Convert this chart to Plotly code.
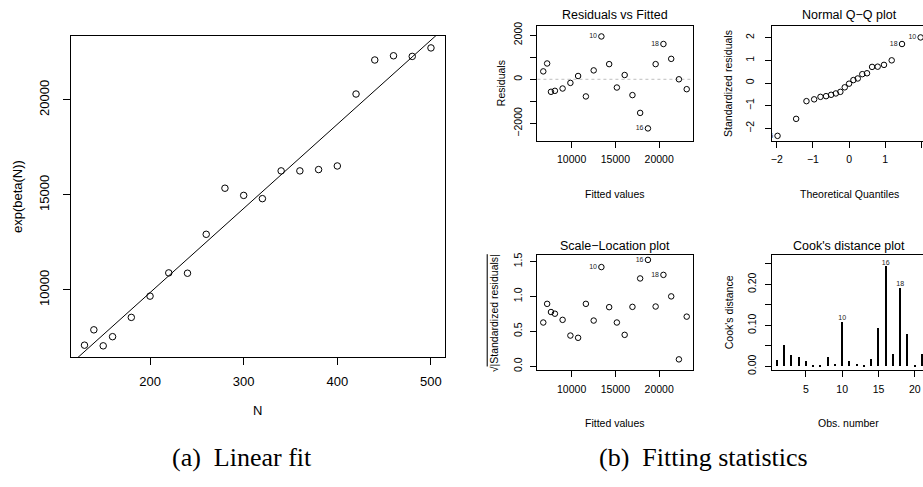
import plotly.graph_objects as go

W, H = 923, 487

# ---------------- data: panel (a) linear fit ----------------
N = [130, 140, 150, 160, 180, 200, 220, 240, 260, 280, 300,
     320, 340, 360, 380, 400, 420, 440, 460, 480, 500]
exp_beta = [7091, 7900, 7057, 7539, 8554, 9673, 10895, 10878, 12926, 15352, 14974,
            14802, 16264, 16264, 16333, 16523, 20309, 22099, 22322, 22288, 22735]
fit_intercept = 997.0
fit_slope = 44.3

# ---------------- data: panel (b) fitting statistics ----------------
obs_labels = ["", "", "", "", "", "", "", "", "", "10", "",
              "", "", "", "", "16", "", "18", "", "", ""]
fitted = [6760, 7200, 7640, 8090, 8970, 9860, 10740, 11630, 12520, 13400, 14290,
          15170, 16060, 16950, 17830, 18720, 19600, 20490, 21380, 22260, 23150]
residuals = [358, 716, -567, -522, -418, -164, 149, -776, 403, 1940, 687,
             -373, 194, -716, -1522, -2224, 687, 1597, 925, 0, -448]
sqrt_std_resid = [0.626, 0.893, 0.776, 0.752, 0.664, 0.439, 0.407, 0.893, 0.654, 1.42, 0.846,
                  0.626, 0.449, 0.850, 1.257, 1.523, 0.855, 1.308, 1.00, 0.098, 0.71]
qq_theoretical = [-1.981, -1.466, -1.180, -0.967, -0.792, -0.637, -0.497, -0.366, -0.241, -0.120, 0.0,
                  0.120, 0.241, 0.366, 0.497, 0.637, 0.792, 0.967, 1.180, 1.466, 1.981]
qq_sample = [-2.33, -1.58, -0.80, -0.72, -0.61, -0.58, -0.52, -0.46, -0.39, -0.19, -0.03,
             0.13, 0.20, 0.39, 0.43, 0.71, 0.72, 0.80, 1.00, 1.72, 2.01]
qq_labels = ["16", "", "", "", "", "", "", "", "", "", "",
             "", "", "", "", "", "", "", "", "18", "10"]
obs_number = list(range(1, 22))
cooks_d = [0.0143, 0.0526, 0.028, 0.0215, 0.012, 0.0024, 0.0016, 0.0215, 0.0064, 0.108, 0.0135,
           0.0056, 0.0016, 0.0175, 0.093, 0.243, 0.0295, 0.191, 0.079, 0.0016, 0.0295]

# tick labels
a_xticks = [200, 300, 400, 500]
a_xticktext = ["200", "300", "400", "500"]
a_yticks = [10000, 15000, 20000]
a_yticktext = ["10000", "15000", "20000"]
fit_xticks = [10000, 15000, 20000]
fit_xticktext = ["10000", "15000", "20000"]
res_yticks = [-2000, -1000, 0, 1000, 2000]
res_yticktext = ["\u22122000", "", "0", "", "2000"]
qq_ticks = [-2, -1, 0, 1, 2]
qq_ticktext = ["\u22122", "\u22121", "0", "1", "2"]
sl_yticks = [0.0, 0.5, 1.0, 1.5]
sl_yticktext = ["0.0", "0.5", "1.0", "1.5"]
cook_xticks = [5, 10, 15, 20]
cook_xticktext = ["5", "10", "15", "20"]
cook_yticks = [0.0, 0.05, 0.10, 0.15, 0.20, 0.25]
cook_yticktext = ["0.00", "", "0.10", "", "0.20", ""]

SANS = "Liberation Sans"
SERIF = "Liberation Serif"


def px_x(p):
    return p / W


def px_y(p):
    return 1 - p / H


def dom_x(a, b):
    return [max(0.0, px_x(a)), min(1.0, px_x(b))]


def dom_y(top, bottom):
    return [px_y(bottom), px_y(top)]


def axis(domain, rng, tickvals, ticktext, ticklen=7, fs=10.5, anchor=None,
         mirror=True, angle=0, standoff=0):
    return dict(domain=domain, range=rng, tickmode="array", tickvals=tickvals, ticktext=ticktext,
                ticks="outside", ticklen=ticklen, tickwidth=1, tickcolor="black",
                showline=True, linecolor="black", linewidth=1, mirror=mirror,
                showgrid=False, zeroline=False, anchor=anchor,
                tickfont=dict(family=SANS, size=fs, color="black"),
                tickangle=angle, ticklabelstandoff=standoff, fixedrange=True)


fig = go.Figure()

# ---- panel (a)
a_xrange = [115.2, 514.8]
fig.add_trace(go.Scatter(x=N, y=exp_beta, mode="markers", xaxis="x", yaxis="y",
                         marker=dict(symbol="circle-open", size=6.5, color="black",
                                     line=dict(width=1, color="black")),
                         showlegend=False))
fig.add_trace(go.Scatter(x=a_xrange, y=[fit_intercept + fit_slope * v for v in a_xrange],
                         mode="lines", xaxis="x", yaxis="y",
                         line=dict(color="black", width=1), showlegend=False))

# ---- residuals vs fitted
circ = dict(symbol="circle-open", size=5.5, color="black", line=dict(width=1, color="black"))
lblfont = dict(family=SANS, size=7, color="#222222")
fig.add_trace(go.Scatter(x=fitted, y=residuals, mode="markers+text", text=obs_labels,
                         textposition="middle left", textfont=lblfont,
                         xaxis="x2", yaxis="y2", marker=circ, showlegend=False))
# ---- QQ
fig.add_trace(go.Scatter(x=qq_theoretical, y=qq_sample, mode="markers+text", text=qq_labels,
                         textposition="middle left", textfont=lblfont,
                         xaxis="x3", yaxis="y3", marker=circ, showlegend=False))
# ---- scale-location
fig.add_trace(go.Scatter(x=fitted, y=sqrt_std_resid, mode="markers+text", text=obs_labels,
                         textposition="middle left", textfont=lblfont,
                         xaxis="x4", yaxis="y4", marker=circ, showlegend=False))
# ---- cook's distance
fig.add_trace(go.Bar(x=obs_number, y=cooks_d, width=0.2, marker=dict(color="black", line=dict(width=0)),
                     xaxis="x5", yaxis="y5", showlegend=False))
fig.add_trace(go.Scatter(x=obs_number, y=cooks_d, mode="text", text=obs_labels,
                         textposition="top center", textfont=lblfont,
                         xaxis="x5", yaxis="y5", showlegend=False))

fit_range = [6091, 23818]
layout = dict(
    width=W, height=H, margin=dict(l=0, r=0, t=0, b=0),
    paper_bgcolor="white", plot_bgcolor="white", showlegend=False, bargap=0,
    xaxis=axis(dom_x(69.7, 444.3), a_xrange, a_xticks, a_xticktext, fs=13, ticklen=7,
               anchor="y", standoff=5),
    yaxis=axis(dom_y(32.7, 360), [6451, 23357], a_yticks, a_yticktext, fs=13, ticklen=7,
               anchor="x", angle=-90, standoff=8),
    xaxis2=axis(dom_x(537, 692.3), fit_range, fit_xticks, fit_xticktext, ticklen=6, anchor="y2",
                standoff=3),
    yaxis2=axis(dom_y(22.5, 139.3), [-2782, 2409], res_yticks, res_yticktext, ticklen=6,
                anchor="x2", angle=-90, standoff=4),
    xaxis3=axis(dom_x(771.7, 923), [-2.138, 2.047], qq_ticks, qq_ticktext, ticklen=6, anchor="y3",
                standoff=3),
    yaxis3=axis(dom_y(22.5, 139.3), [-2.545, 2.51], qq_ticks, qq_ticktext, ticklen=6,
                anchor="x3", angle=-90, mirror=False, standoff=7),
    xaxis4=axis(dom_x(537, 692.3), fit_range, fit_xticks, fit_xticktext, ticklen=6, anchor="y4",
                standoff=3),
    yaxis4=axis(dom_y(256, 373.3), [-0.060, 1.589], sl_yticks, sl_yticktext, ticklen=6,
                anchor="x4", angle=-90, standoff=4),
    xaxis5=axis(dom_x(771.7, 923), [0.3, 21.14], cook_xticks, cook_xticktext, ticklen=6, anchor="y5",
                standoff=3),
    yaxis5=axis(dom_y(256, 373.3), [-0.0096, 0.271], cook_yticks, cook_yticktext, ticklen=6,
                anchor="x5", angle=-90, mirror=False, standoff=5),
)

shapes = [dict(type="line", xref="x2 domain", yref="y2", x0=0, x1=1, y0=0, y1=0,
               line=dict(color="#BEBEBE", width=1, dash="dot"), layer="below")]

anns = []


def ann(text, x, y, size, angle=0, family=SANS):
    anns.append(dict(text=text, x=px_x(x), y=px_y(y), xref="paper", yref="paper",
                     showarrow=False, xanchor="center", yanchor="middle", textangle=angle,
                     font=dict(family=family, size=size, color="black")))


# panel (a) axis titles
ann("N", 257, 414, 13)
ann("exp(beta(N))", 16.7, 196, 13, angle=-90)
# panel (b) titles
ann("Residuals vs Fitted", 614.6, 11.5, 12.5)
ann("Normal Q\u2212Q plot", 849, 11.5, 12.5)
ann("Scale\u2212Location plot", 614.6, 246.5, 12.5)
ann("Cook's distance plot", 849, 246.5, 12.5)
ann("Fitted values", 614.6, 193.3, 10.5)
ann("Theoretical Quantiles", 849, 193.3, 10.5)
ann("Fitted values", 614.6, 427, 10.5)
ann("Obs. number", 848, 427, 10.5)
ann("Residuals", 501.3, 80.9, 10.5, angle=-90)
ann("Standardized residuals", 728.3, 80.9, 10.5, angle=-90)
ann("\u221a<span style='text-decoration:overline'>|Standardized residuals|</span>", 493, 314.6, 10.5, angle=-90)
ann("Cook's distance", 728.3, 314.6, 10.5, angle=-90)
# captions
ann("(a)  Linear fit", 241, 462, 26, family=SERIF)
ann("(b)  Fitting statistics", 703, 462, 26, family=SERIF)

layout["shapes"] = shapes
layout["annotations"] = anns
fig.update_layout(**layout)
fig.write_html("out.html", config={"displayModeBar": False},
               post_script="document.body.style.margin='0';document.body.style.overflow='hidden';")
